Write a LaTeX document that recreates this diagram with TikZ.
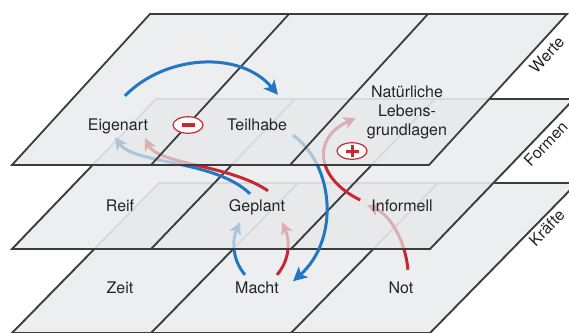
\documentclass[tikz,border=0pt]{standalone}
\usepackage{fontspec}
\setmainfont{TeX Gyre Heros}
\usetikzlibrary{arrows.meta,shapes.geometric}

\definecolor{sheet}{RGB}{229,231,233}
\definecolor{edge}{RGB}{60,60,60}
\definecolor{faintedge}{RGB}{185,185,185}
\definecolor{flowblue}{RGB}{35,118,195}
\definecolor{flowred}{RGB}{200,40,50}
\definecolor{ink}{RGB}{35,35,35}

\pgfdeclarelayer{layerK}
\pgfdeclarelayer{flowK}
\pgfdeclarelayer{layerF}
\pgfdeclarelayer{flowF}
\pgfdeclarelayer{layerW}
\pgfsetlayers{layerK,flowK,layerF,flowF,layerW,main}

\begin{document}
\begin{tikzpicture}[x=1pt,y=-1pt,
	lbl/.style={font=\fontsize{16}{19}\selectfont, text=ink, inner sep=0pt, text height=11.5pt, text depth=3.5pt},
	sheetbox/.style={fill=sheet, fill opacity=0.7, draw=faintedge, line width=1.8pt},
	rim/.style={draw=edge, line width=1.8pt},
	flow/.style={line width=3pt, -{Stealth[length=12pt,width=12pt,inset=3pt]}},
	bigflow/.style={line width=3pt, -{Stealth[length=14pt,width=14pt,inset=3.5pt]}},
	sign/.style={ellipse, draw=flowred, line width=1.2pt, fill=white, minimum width=30pt, minimum height=16.5pt, inner sep=0pt}]

	\useasboundingbox (0,0) rectangle (569,332);

	\node[lbl] (eigenart) at (118,126) {Eigenart};
	\node[lbl] (teilhabe) at (257,126) {Teilhabe};
	\node[font=\fontsize{16}{19}\selectfont, text=ink, inner sep=0pt, align=center] (lebensgrundlagen) at (407,112) {Natürliche\\Lebens-\\grundlagen};
	\node[lbl] (reif) at (120,207) {Reif};
	\node[lbl] (geplant) at (257,207) {Geplant};
	\node[lbl] (informell) at (402,207) {Informell};
	\node[lbl] (zeit) at (120,289) {Zeit};
	\node[lbl] (macht) at (257,289) {Macht};
	\node[lbl] (not) at (401,289) {Not};

	\node[lbl, rotate=47.6] (werte) at (548,56) {Werte};
	\node[lbl, rotate=46.2] (formen) at (547,145) {Formen};
	\node[lbl, rotate=45.6] (kraefte) at (548,229) {Kräfte};

	% Kräfte
	\begin{pgfonlayer}{layerK}
	\draw[sheetbox] (159,183) -- (577,183) -- (430,333) -- (12,333) -- cycle;
	\draw[faintedge, line width=1.8pt] (298,183) -- (151,333) (438,183) -- (291,333);
	\begin{scope}
		\clip (-10,249) -- (430,249) -- (669,0) -- (700,0) -- (700,340) -- (-10,340) -- cycle;
		\draw[rim] (159,183) -- (577,183) -- (430,333) -- (12,333) -- cycle;
		\draw[rim] (298,183) -- (151,333) (438,183) -- (291,333);
	\end{scope}
	\end{pgfonlayer}

	\begin{pgfonlayer}{flowK}
	\draw[flow, flowblue] ([xshift=-12pt,yshift=6.5pt]macht.north) .. controls +(-13,-15) and +(-8,18) .. ([xshift=-17pt,yshift=-7.5pt]geplant.south);
	\draw[flow, flowred] ([xshift=20pt,yshift=6.5pt]macht.north) .. controls +(13,-15) and +(8,18) .. ([xshift=25pt,yshift=-7.5pt]geplant.south);
	\draw[flow, flowred] ([xshift=7pt,yshift=11.5pt]not.north) .. controls +(-3,-30) and +(23,10) .. ([xshift=-4pt,yshift=2pt]informell.west);
	\end{pgfonlayer}

	% Formen
	\begin{pgfonlayer}{layerF}
	\draw[sheetbox] (156,99) -- (574,99) -- (430,249) -- (12,249) -- cycle;
	\draw[faintedge, line width=1.8pt] (295,99) -- (151,249) (435,99) -- (291,249);
	\begin{scope}
		\clip (-10,165) -- (429,165) -- (580,0) -- (700,0) -- (700,340) -- (-10,340) -- cycle;
		\draw[rim] (156,99) -- (574,99) -- (430,249) -- (12,249) -- cycle;
		\draw[rim] (295,99) -- (151,249) (435,99) -- (291,249);
	\end{scope}
	\end{pgfonlayer}

	\begin{pgfonlayer}{flowF}
	\draw[flow, flowblue] ([xshift=-7pt,yshift=5.5pt]geplant.north) .. controls +(-35,-34) and +(19,27) .. ([xshift=-3pt,yshift=-3.5pt]eigenart.south);
	\draw[flow, flowred] ([xshift=11pt,yshift=8.5pt]geplant.north) .. controls +(-38,-26) and +(13,26) .. ([xshift=27pt,yshift=-4.5pt]eigenart.south);
	\draw[bigflow, flowblue] ([xshift=6pt,yshift=-1.5pt]teilhabe.south east) .. controls +(41,30) and +(47,-42) .. ([xshift=14pt]macht.north east);
	\draw[flow, flowred] ([xshift=-11pt,yshift=7pt]informell.west) .. controls +(-45,-22) and +(-44,20) .. ([xshift=-11pt,yshift=-6pt]lebensgrundlagen.west);
	\end{pgfonlayer}

	% Werte
	\begin{pgfonlayer}{layerW}
	\draw[sheetbox, draw=edge] (150,14) -- (567,14) -- (429,165) -- (12,165) -- cycle;
	\draw[rim] (289,14) -- (151,165) (428,14) -- (290,165);
	\end{pgfonlayer}

	\draw[bigflow, flowblue] ([xshift=7pt,yshift=22.5pt]eigenart.north) .. controls +(40,-41) and +(-38,-45) .. ([xshift=21pt,yshift=23.5pt]teilhabe.north);

	\node[sign] (minus) at (188,125) {};
	\draw[flowred, line width=3.5pt] ([xshift=-6.5pt]minus.center) -- ([xshift=6.5pt]minus.center);
	\node[sign] (plus) at (352,151) {};
	\draw[flowred, line width=3pt] ([xshift=-6.5pt]plus.center) -- ([xshift=6.5pt]plus.center) ([yshift=-6pt]plus.center) -- ([yshift=6pt]plus.center);

\end{tikzpicture}
\end{document}
